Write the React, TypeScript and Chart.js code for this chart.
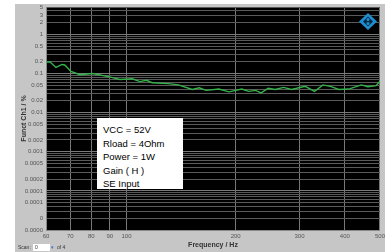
import React, { useEffect, useRef } from 'react';
import { Chart, registerables } from 'chart.js';
Chart.register(...registerables);

const frequencies = [60, 60.4, 61.5, 63.9, 66.4, 67.6, 70.3, 74.4, 80.6, 89.8, 95.9, 103.8, 108.9, 113.5, 117.7, 130.4, 139, 151.9, 158.7, 165.8, 179.8, 191.7, 208, 217, 227, 235, 246, 257, 271, 285, 311, 330, 348, 367, 385, 410, 444, 463, 488, 500];
const thdPercent = [0.195, 0.195, 0.2, 0.143, 0.17, 0.165, 0.113, 0.093, 0.1, 0.082, 0.07, 0.073, 0.062, 0.067, 0.058, 0.055, 0.051, 0.039, 0.043, 0.037, 0.04, 0.034, 0.04, 0.035, 0.037, 0.032, 0.042, 0.039, 0.044, 0.039, 0.047, 0.035, 0.051, 0.046, 0.039, 0.04, 0.051, 0.046, 0.049, 0.064];

const xTicks = [60, 70, 80, 90, 100, 200, 300, 400, 500];
const yLabelValues = [5, 3, 2, 1, 0.5, 0.2, 0.1, 0.05, 0.02, 0.01, 0.005, 0.002, 0.001, 0.0005, 0.0002, 0.0001, 0.00005, 0.00002, 0.00001];
const yLabelTexts = ['5', '3', '2', '1', '0.5', '0.2', '0.1', '0.05', '0.02', '0.01', '0.005', '0.002', '0.001', '0.0005', '0.0002', '0.0001', '0.0001', '0', '0.0000'];
const annotationLines = ['VCC = 52V', 'Rload = 4Ohm', 'Power = 1W', 'Gain ( H )', 'SE Input'];

function buildYGrid(): number[] {
  const out: number[] = [];
  for (let e = -5; e <= 0; e++) {
    for (let m = 1; m <= 9; m++) {
      const v = parseFloat((m * Math.pow(10, e)).toPrecision(6));
      if (v <= 5) out.push(v);
    }
  }
  return out;
}

function labelFor(v: number): string {
  for (let i = 0; i < yLabelValues.length; i++) {
    if (Math.abs(v - yLabelValues[i]) / yLabelValues[i] < 1e-6) return yLabelTexts[i];
  }
  return '';
}

const backgroundPlugin = {
  id: 'bgPanel',
  beforeDraw(chart: any) {
    const { ctx, chartArea } = chart;
    ctx.save();
    ctx.fillStyle = '#ffffff';
    ctx.fillRect(0, 0, chart.width, chart.height);
    ctx.fillStyle = '#c6c6c6';
    ctx.fillRect(15, 4, 370, 248);
    ctx.fillStyle = '#000000';
    ctx.fillRect(chartArea.left, chartArea.top, chartArea.right - chartArea.left, chartArea.bottom - chartArea.top);
    ctx.restore();
  },
};

export default function App() {
  const ref = useRef<HTMLCanvasElement | null>(null);
  useEffect(() => {
    if (!ref.current) return;
    const yGrid = buildYGrid();
    const chart = new Chart(ref.current, {
      type: 'line',
      data: {
        datasets: [
          {
            data: frequencies.map((f, i) => ({ x: f, y: thdPercent[i] })),
            borderColor: '#34b24a',
            borderWidth: 1.4,
            pointRadius: 0,
            tension: 0,
            fill: false,
          },
        ],
      },
      options: {
        animation: false,
        responsive: false,
        maintainAspectRatio: false,
        layout: { padding: { left: 16, right: 6, top: 7, bottom: 1 } },
        plugins: { legend: { display: false }, tooltip: { enabled: false } },
        scales: {
          x: {
            type: 'logarithmic',
            min: 60,
            max: 500,
            afterBuildTicks: (scale: any) => {
              scale.ticks = xTicks.map((v) => ({ value: v }));
            },
            afterFit: (scale: any) => {
              scale.height = 21;
            },
            ticks: {
              autoSkip: false,
              maxRotation: 0,
              padding: 3,
              color: '#555',
              font: { family: 'Liberation Sans', size: 6 },
              callback: (v: any) => String(v),
            },
            grid: { color: '#777', lineWidth: 1, drawTicks: false },
            border: { color: '#888' },
            title: {
              display: true,
              text: 'Frequency / Hz',
              color: '#333',
              font: { family: 'Liberation Sans', size: 7, weight: 'bold' },
              padding: { top: 1, bottom: 2 },
            },
          },
          y: {
            type: 'logarithmic',
            min: 0.00001,
            max: 5,
            afterBuildTicks: (scale: any) => {
              scale.ticks = yGrid.map((v) => ({ value: v }));
            },
            afterFit: (scale: any) => {
              scale.width = 30;
            },
            ticks: {
              autoSkip: false,
              padding: 3,
              color: '#555',
              font: { family: 'Liberation Sans', size: 6 },
              callback: (v: any) => labelFor(Number(v)),
            },
            grid: {
              color: (c: any) => {
                const v = c.tick ? c.tick.value : 0;
                const lg = Math.log10(v);
                return Math.abs(lg - Math.round(lg)) < 1e-6 ? '#7a7a7a' : '#5a5a5a';
              },
              lineWidth: 1,
              drawTicks: false,
            },
            border: { color: '#888' },
            title: {
              display: true,
              text: 'Funct Ch1 / %',
              color: '#333',
              font: { family: 'Liberation Sans', size: 7, weight: 'bold' },
              padding: { top: 4, bottom: 2 },
            },
          },
        },
      },
      plugins: [backgroundPlugin],
    } as any);
    return () => chart.destroy();
  }, []);

  return (
    <div style={{ position: 'fixed', left: 0, top: 0, width: 388, height: 252, background: '#fff', overflow: 'hidden' }}>
      <canvas ref={ref} width={388} height={252} style={{ position: 'absolute', left: 0, top: 0, width: 388, height: 252 }} />
      <div
        style={{
          position: 'absolute',
          left: 97,
          top: 118,
          width: 86,
          height: 71,
          background: '#fff',
          boxSizing: 'border-box',
          paddingLeft: 6,
          paddingTop: 5,
          fontFamily: 'Liberation Sans',
          fontSize: 9.5,
          lineHeight: '13.5px',
          color: '#000',
        }}
      >
        {annotationLines.map((t) => (
          <div key={t} style={{ whiteSpace: 'nowrap' }}>{t}</div>
        ))}
      </div>
      <svg style={{ position: 'absolute', left: 359, top: 13 }} width={18} height={17} viewBox="0 0 18 17">
        <polygon points="9,0 18,8.5 9,17 0,8.5" fill="#1b8fd2" />
        <polygon points="9,3.5 14,8.5 9,13.5 4,8.5" fill="#0a2a40" />
        <circle cx={9} cy={6.5} r={1.5} fill="#1b8fd2" />
        <circle cx={9} cy={10.5} r={1.5} fill="#1b8fd2" />
      </svg>
      <div style={{ position: 'absolute', left: 18, top: 244, fontFamily: 'Liberation Sans', fontSize: 5, color: '#333', lineHeight: '7px' }}>Scan:</div>
      <div style={{ position: 'absolute', left: 33, top: 244, width: 17, height: 7, background: '#fff', fontFamily: 'Liberation Sans', fontSize: 5, color: '#333', lineHeight: '7px', boxSizing: 'border-box', paddingLeft: 2 }}>0</div>
      <div style={{ position: 'absolute', left: 51, top: 244, fontFamily: 'Liberation Sans', fontSize: 5, color: '#2a6fd0', lineHeight: '7px' }}>▾</div>
      <div style={{ position: 'absolute', left: 57, top: 244, fontFamily: 'Liberation Sans', fontSize: 5, color: '#333', lineHeight: '7px' }}>of 4</div>
    </div>
  );
}
